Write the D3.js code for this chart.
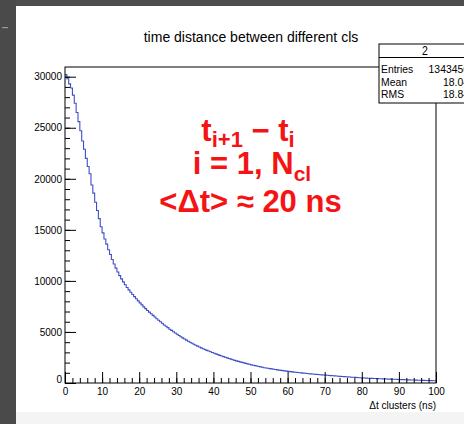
<!DOCTYPE html>
<html>
<head>
<meta charset="utf-8">
<script src="https://cdn.jsdelivr.net/npm/d3@7"></script>
<style>
  html, body { margin: 0; padding: 0; background: #ffffff; }
  svg { display: block; font-family: "Liberation Sans", Arial, Helvetica, sans-serif; }
</style>
</head>
<body>
<svg id="chart" width="464" height="424"></svg>
<script>
// Histogram of the time distance between consecutive clusters, 0.5 ns bins from 0 to 100 ns
const binWidth = 0.5;
const counts = [
  30200, 29800, 29300, 28900, 28200, 27400, 26500, 25600, 24700, 23700,   //  0 - 5 ns
  22900, 22000, 21200, 20500, 19400, 18600, 17700, 16900, 16100, 15300,   //  5 - 10
  14700, 14100, 13600, 13050, 12580, 12100, 11650, 11250, 10870, 10520,   // 10 - 15
  10200,  9900,  9620,  9360,  9120,  8890,  8670,  8460,  8250,  8040,   // 15 - 20
   7850,  7650,  7460,  7280,  7100,  6940,  6780,  6620,  6460,  6300,   // 20 - 25
   6150,  6000,  5850,  5680,  5560,  5420,  5260,  5150,  5020,  4890,   // 25 - 30
   4770,  4650,  4530,  4420,  4310,  4200,  4090,  3990,  3890,  3790,   // 30 - 35
   3700,  3610,  3520,  3440,  3360,  3280,  3200,  3130,  3060,  2990,   // 35 - 40
   2920,  2850,  2780,  2710,  2640,  2580,  2520,  2460,  2400,  2340,   // 40 - 45
   2280,  2220,  2170,  2120,  2070,  2020,  1970,  1920,  1870,  1830,   // 45 - 50
   1780,  1740,  1700,  1660,  1620,  1580,  1540,  1500,  1470,  1440,   // 50 - 55
   1410,  1380,  1350,  1320,  1290,  1260,  1240,  1210,  1190,  1160,   // 55 - 60
   1140,  1110,  1090,  1070,  1050,  1030,  1010,   990,   970,   950,   // 60 - 65
    930,   910,   895,   880,   860,   845,   830,   815,   800,   785,   // 65 - 70
    770,   755,   740,   725,   710,   695,   680,   665,   650,   635,   // 70 - 75
    620,   610,   600,   585,   570,   560,   550,   535,   520,   510,   // 75 - 80
    500,   490,   480,   470,   460,   450,   440,   435,   430,   420,   // 80 - 85
    410,   405,   400,   390,   380,   375,   370,   365,   360,   350,   // 85 - 90
    340,   335,   330,   320,   310,   305,   300,   295,   290,   280,   // 90 - 95
    270,   265,   260,   255,   250,   245,   240,   230,   220,   215    // 95 - 100
];
const xMajorTicks = [0, 10, 20, 30, 40, 50, 60, 70, 80, 90, 100];
const yMajorTicks = [0, 5000, 10000, 15000, 20000, 25000, 30000];
const titleText = "time distance between different cls";
const xTitle = "\u0394t clusters (ns)";
const statsName = "2";
const statsLabels = ["Entries", "Mean", "RMS"];
const statsValues = ["1343456", "18.04", "18.84"];

const svg = d3.select("#chart");
const W = 464, H = 424;

// page surroundings: dark strip on the left and top, light band at the bottom
svg.append("rect").attr("x", 0).attr("y", 0).attr("width", W).attr("height", H).attr("fill", "#ffffff");
svg.append("rect").attr("x", 0).attr("y", 412).attr("width", W).attr("height", 12).attr("fill", "#f4f4f4");
svg.append("rect").attr("x", 0).attr("y", 0).attr("width", W).attr("height", 6).attr("fill", "#4e4e4e");
svg.append("rect").attr("x", 0).attr("y", 0).attr("width", 16).attr("height", H).attr("fill", "#4a4a4a");
svg.append("rect").attr("x", 2).attr("y", 27).attr("width", 6).attr("height", 1.2).attr("fill", "#9a9a9a");

// frame geometry
const frameL = 65, frameR = 436, frameT = 67, frameB = 383;

const x = d3.scaleLinear().domain([0, 100]).range([frameL, frameR]);
const y = d3.scaleLinear().domain([0, 30950]).range([frameB, frameT]);

// histogram outline
const stepData = counts.map((c, i) => [i * binWidth, c]);
stepData.push([counts.length * binWidth, counts[counts.length - 1]]);
svg.append("defs").append("clipPath").attr("id", "frameClip")
  .append("rect").attr("x", frameL).attr("y", frameT).attr("width", frameR - frameL).attr("height", frameB - frameT);
svg.append("path")
  .datum(stepData)
  .attr("clip-path", "url(#frameClip)")
  .attr("fill", "none")
  .attr("stroke", "#3e4fc6")
  .attr("stroke-width", 1.1)
  .attr("d", d3.line().x(d => x(d[0])).y(d => y(d[1])).curve(d3.curveStepAfter));

// axes: major ticks with labels, minor ticks without
const yMinor = d3.range(0, 31000, 1000);
const xMinor = d3.range(0, 101, 2);

const yAxisMinor = svg.append("g").attr("transform", `translate(${frameL},0)`)
  .call(d3.axisLeft(y).tickValues(yMinor).tickSize(-5).tickFormat(""));
const yAxisMajor = svg.append("g").attr("transform", `translate(${frameL},0)`)
  .call(d3.axisLeft(y).tickValues(yMajorTicks).tickSize(-11).tickPadding(3).tickFormat(d3.format("d")));
const xAxisMinor = svg.append("g").attr("transform", `translate(0,${frameB})`)
  .call(d3.axisBottom(x).tickValues(xMinor).tickSize(-5).tickFormat(""));
const xAxisMajor = svg.append("g").attr("transform", `translate(0,${frameB})`)
  .call(d3.axisBottom(x).tickValues(xMajorTicks).tickSize(-11).tickPadding(5).tickFormat(d3.format("d")));

[yAxisMinor, yAxisMajor, xAxisMinor, xAxisMajor].forEach(g => {
  g.select(".domain").remove();
  g.selectAll("line").attr("stroke", "#000").attr("stroke-width", 1);
  g.selectAll("text").attr("fill", "#000").attr("font-size", 10)
    .attr("font-family", "'Liberation Sans', Arial, sans-serif");
});
yAxisMajor.selectAll("text").filter(d => d === 0).attr("dy", "-0.05em");

// frame
svg.append("rect")
  .attr("x", frameL).attr("y", frameT).attr("width", frameR - frameL).attr("height", frameB - frameT)
  .attr("fill", "none").attr("stroke", "#000").attr("stroke-width", 1);

// axis title
svg.append("text")
  .attr("x", frameR).attr("y", 409)
  .attr("text-anchor", "end").attr("font-size", 10).attr("fill", "#000")
  .text(xTitle);

// plot title
svg.append("text")
  .attr("x", 251).attr("y", 42)
  .attr("text-anchor", "middle").attr("font-size", 14).attr("fill", "#000")
  .text(titleText);

// statistics box (its right part runs past the page edge)
const box = { x: 379, y: 44, w: 92, h: 59 };
const stats = svg.append("g");
stats.append("rect").attr("x", box.x).attr("y", box.y).attr("width", box.w).attr("height", box.h)
  .attr("fill", "#fff").attr("stroke", "#000").attr("stroke-width", 1);
stats.append("line").attr("x1", box.x).attr("x2", box.x + box.w).attr("y1", 57.5).attr("y2", 57.5)
  .attr("stroke", "#000").attr("stroke-width", 1);
const narrow = (sel, ax) => sel.attr("transform", `translate(${ax},0) scale(0.88,1) translate(${-ax},0)`);
narrow(stats.append("text").attr("x", 425).attr("y", 55.5)
  .attr("text-anchor", "middle").attr("font-size", 12).text(statsName), 425);
statsLabels.forEach((lab, i) => {
  const by = 73.5 + i * 12.5;
  narrow(stats.append("text").attr("x", 381).attr("y", by).attr("font-size", 11.8).text(lab), 381);
  narrow(stats.append("text").attr("x", 469).attr("y", by)
    .attr("text-anchor", "end").attr("font-size", 11.8).text(statsValues[i]), 469);
});

// red annotation
const note = svg.append("g").attr("fill", "#f41414").attr("font-weight", "bold")
  .attr("font-family", "'Liberation Sans', Arial, sans-serif");
const l1 = note.append("text").attr("x", 248).attr("y", 140.5).attr("text-anchor", "middle").attr("font-size", 31);
l1.append("tspan").text("t");
l1.append("tspan").attr("font-size", 22).attr("dy", 6).text("i+1");
l1.append("tspan").attr("dy", -6).text(" \u2212 t");
l1.append("tspan").attr("font-size", 22).attr("dy", 6).text("i");
const l2 = note.append("text").attr("x", 252).attr("y", 173.5).attr("text-anchor", "middle").attr("font-size", 31);
l2.append("tspan").text("i = 1, N");
l2.append("tspan").attr("font-size", 21).attr("dy", 7).text("cl");
note.append("text").attr("x", 250.5).attr("y", 211.5).attr("text-anchor", "middle").attr("font-size", 31)
  .text("<\u0394t> \u2248 20 ns");
</script>
</body>
</html>
